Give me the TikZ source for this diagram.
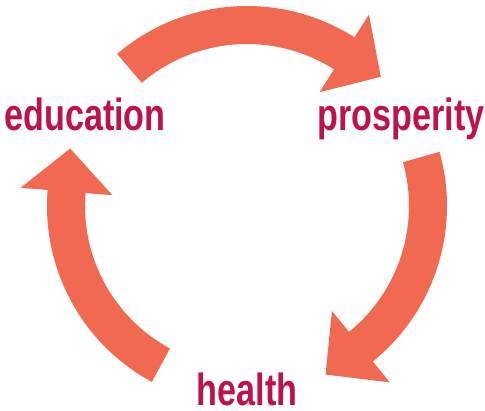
\documentclass[tikz,border=0pt]{standalone}
\usepackage{fontspec}
\setmainfont[FakeStretch=0.76]{Liberation Sans}
\definecolor{arrowred}{RGB}{242,105,81}
\definecolor{wordred}{RGB}{190,18,76}
\newcommand{\cyclearrow}[3]{%
  \fill[arrowred] (#1:200pt) arc[start angle=#1, end angle=#2, radius=200pt]
    -- (#2:227pt) -- (#3:186pt) -- (#2:135pt) -- (#2:162pt)
    arc[start angle=#2, end angle=#1, radius=162pt] -- cycle;}

\begin{document}
\begin{tikzpicture}[x=1pt, y=1pt, word/.style = {text=wordred, font=\fontsize{45}{45}\selectfont\bfseries, inner sep=0pt, anchor=base}]
        \useasboundingbox (-247,-204) rectangle (238,206);
        \node[word] (edu) at (-162,76) {education};
        \node[word] (pros) at (154,76) {prosperity};
        \node[word] (health) at (0,-199.5) {health};
        \cyclearrow{130.5}{57.5}{44}
        \cyclearrow{15.7}{-51}{-65}
        \cyclearrow{241.6}{175.4}{162}
    \end{tikzpicture}
\end{document}
